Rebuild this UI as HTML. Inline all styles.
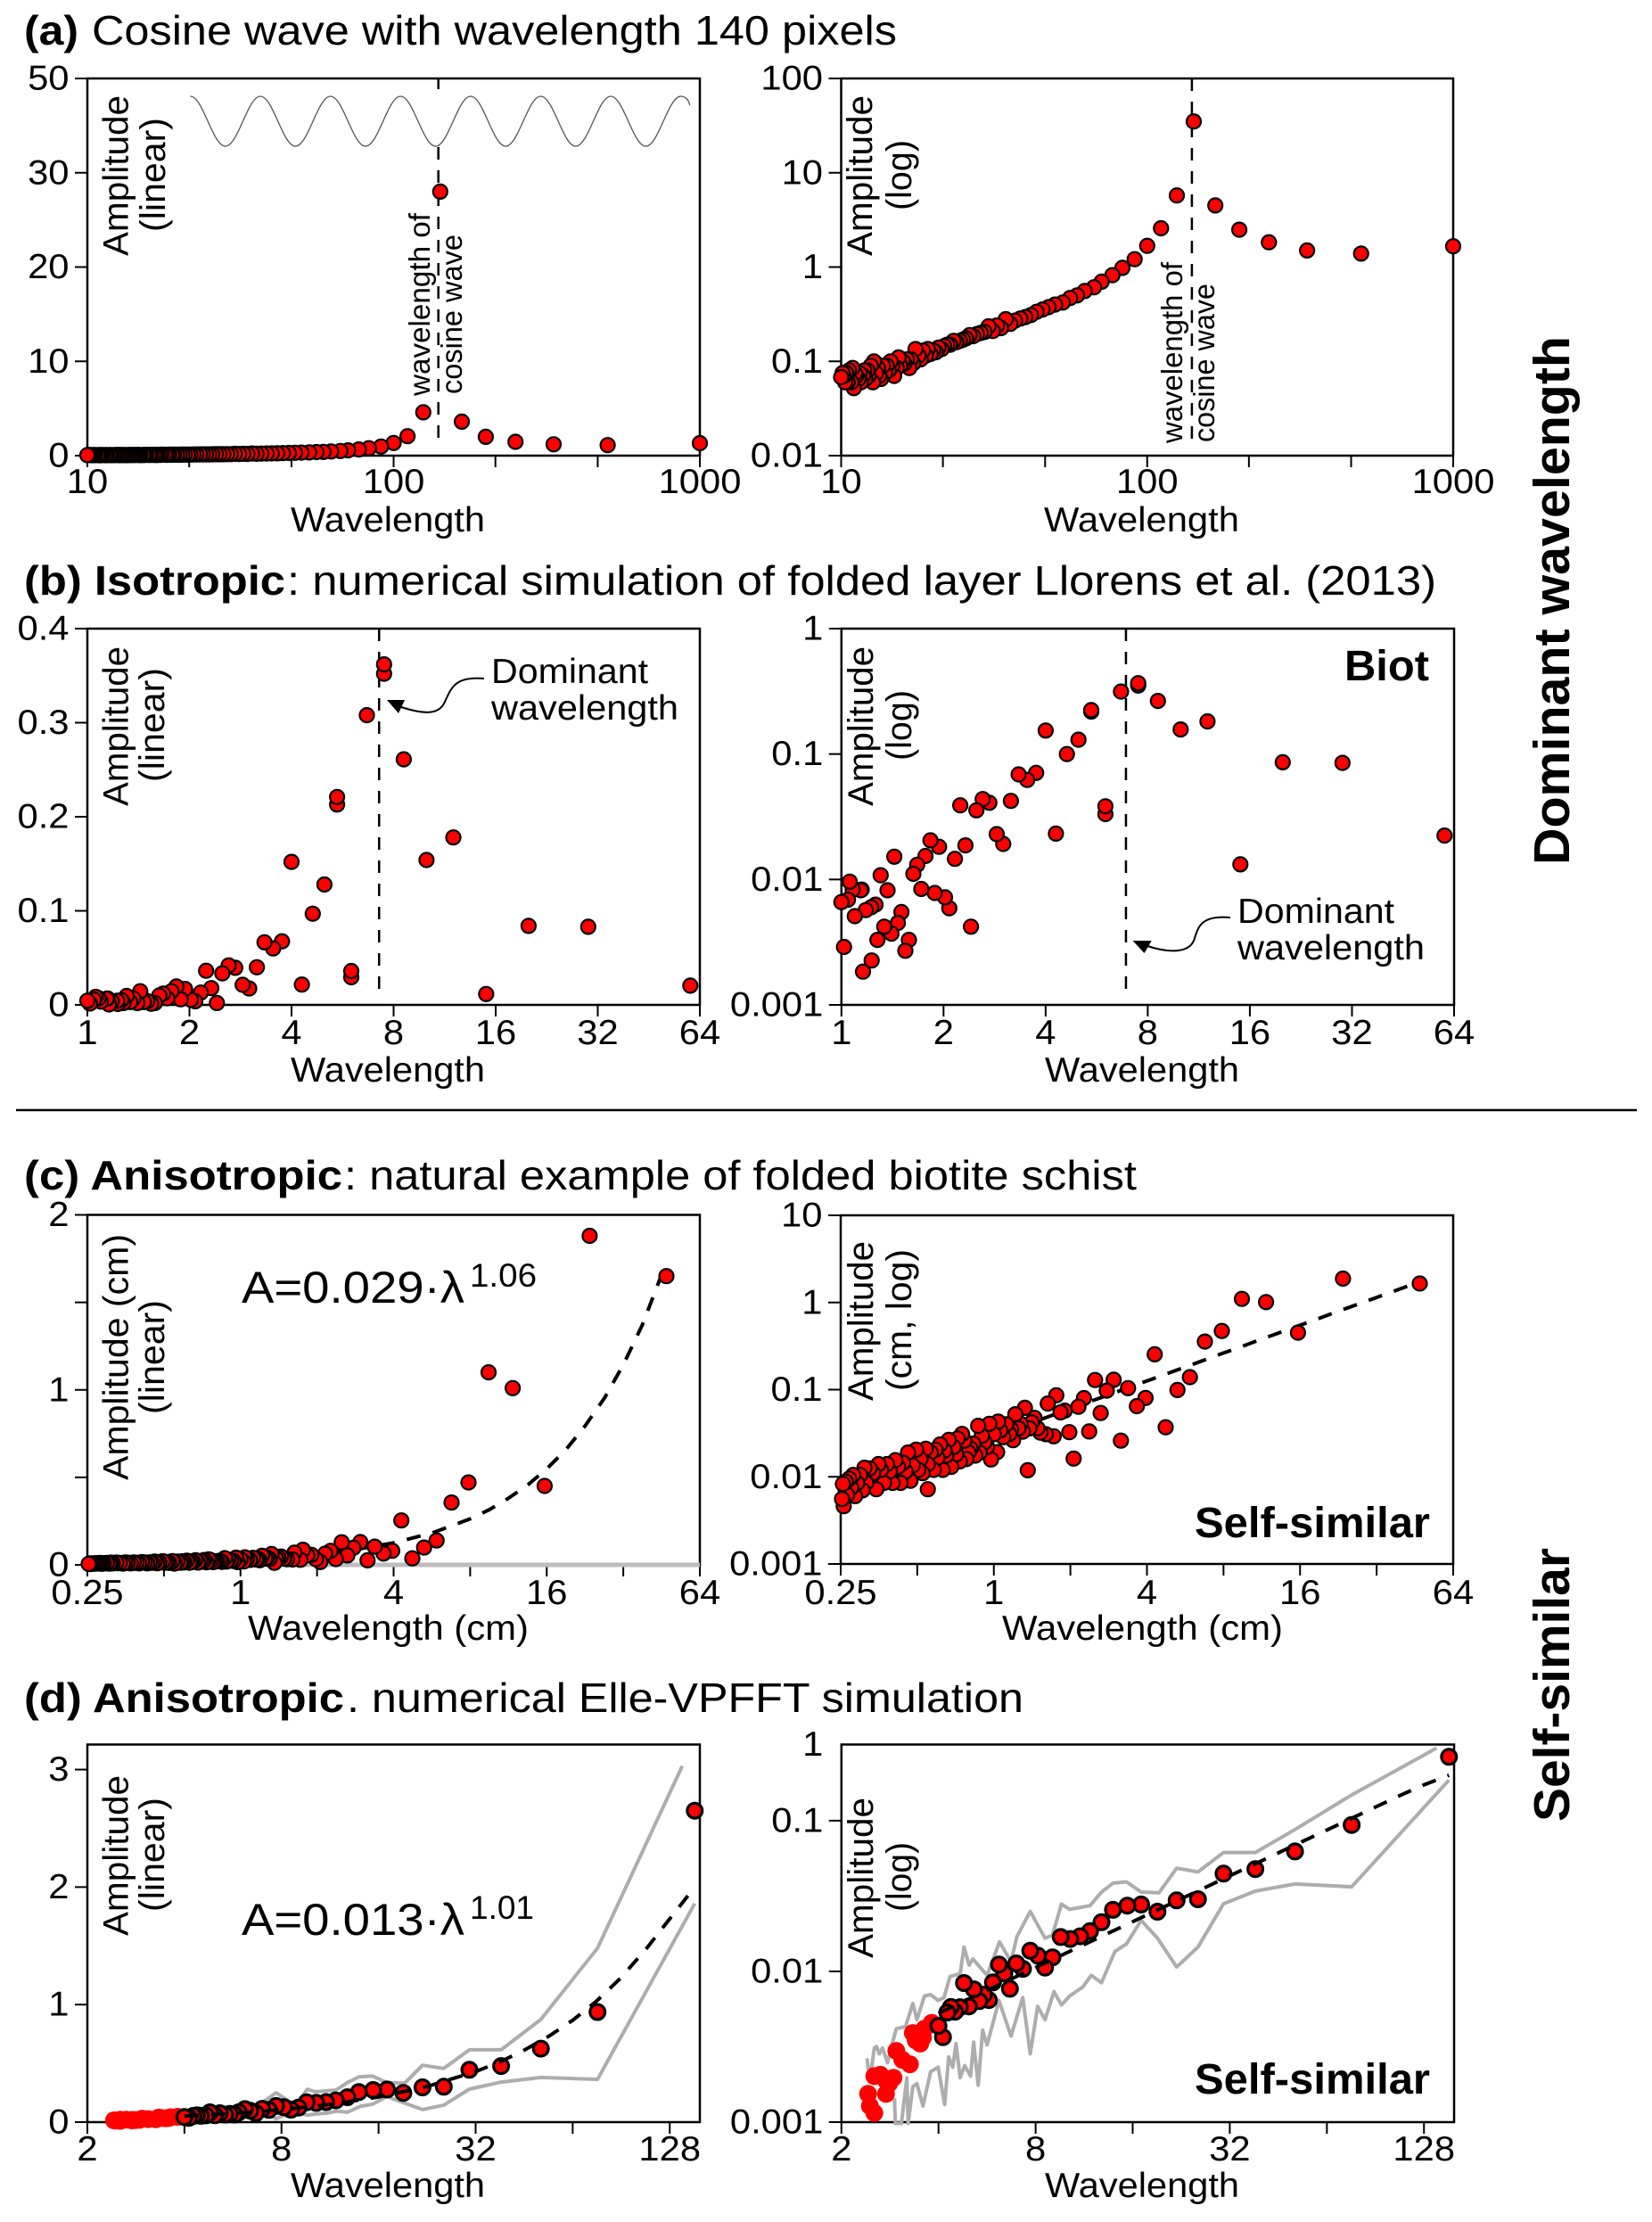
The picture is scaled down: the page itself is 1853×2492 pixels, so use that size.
<!DOCTYPE html>
<html lang="en">
<head>
<meta charset="utf-8">
<title>Amplitude versus wavelength spectra</title>
<style>
html,body{margin:0;padding:0;background:#fff}
svg{display:block}
text{font-family:"Liberation Sans",sans-serif;fill:#000}
.t{font-size:46px}
.b{font-weight:bold}
.yt{font-size:40px}
.xt{font-size:39px}
.tick{font-size:39px}
</style>
</head>
<body>
<svg id="figure" xmlns="http://www.w3.org/2000/svg" width="1853" height="2492" viewBox="0 0 1853 2492">
<rect x="0" y="0" width="1853" height="2492" fill="#fff"/>

<text class="t b" x="27" y="50" textLength="61" lengthAdjust="spacingAndGlyphs">(a)</text>
<text class="t" x="103" y="50" textLength="903" lengthAdjust="spacingAndGlyphs">Cosine wave with wavelength 140 pixels</text>
<text class="t b" x="27" y="667" textLength="293" lengthAdjust="spacingAndGlyphs">(b) Isotropic</text>
<text class="t" x="322" y="667" textLength="1289" lengthAdjust="spacingAndGlyphs">: numerical simulation of folded layer Llorens et al. (2013)</text>
<text class="t b" x="27" y="1334" textLength="357" lengthAdjust="spacingAndGlyphs">(c) Anisotropic</text>
<text class="t" x="386" y="1334" textLength="889" lengthAdjust="spacingAndGlyphs">: natural example of folded biotite schist</text>
<text class="t b" x="27" y="1920" textLength="359" lengthAdjust="spacingAndGlyphs">(d) Anisotropic</text>
<text class="t" x="389" y="1920" textLength="759" lengthAdjust="spacingAndGlyphs">. numerical Elle-VPFFT simulation</text>

<line x1="18" y1="1245" x2="1836" y2="1245" stroke="#000" stroke-width="2.5"/>
<text class="b" font-size="57" transform="translate(1760,970) rotate(-90)" textLength="593" lengthAdjust="spacingAndGlyphs">Dominant wavelength</text>
<text class="b" font-size="57" transform="translate(1760,2043) rotate(-90)" textLength="307" lengthAdjust="spacingAndGlyphs">Self-similar</text>

<path d="M213.5 108c14.3 0 25 56 39.3 56s25-56 39.3-56s25 56 39.3 56s25-56 39.3-56s25 56 39.3 56s25-56 39.3-56s25 56 39.3 56s25-56 39.3-56s25 56 39.3 56s25-56 39.3-56s25 56 39.3 56s25-56 39.3-56s25 56 39.3 56s25-56 39.3-56c5 0 9 4 10 10" fill="none" stroke="#555" stroke-width="1.3"/>

<text class="yt" transform="translate(143.5,287) rotate(-90)" textLength="180" lengthAdjust="spacingAndGlyphs">Amplitude</text>
<text class="yt" transform="translate(185,260) rotate(-90)" textLength="128" lengthAdjust="spacingAndGlyphs">(linear)</text>
<text class="yt" transform="translate(978,287) rotate(-90)" textLength="180" lengthAdjust="spacingAndGlyphs">Amplitude</text>
<text class="yt" transform="translate(1022,236) rotate(-90)" textLength="79" lengthAdjust="spacingAndGlyphs">(log)</text>
<text class="xt" x="326" y="596" textLength="218" lengthAdjust="spacingAndGlyphs">Wavelength</text>
<text class="xt" x="1171" y="596" textLength="219" lengthAdjust="spacingAndGlyphs">Wavelength</text>
<text font-size="33" transform="translate(482,444) rotate(-90)" textLength="205" lengthAdjust="spacingAndGlyphs">wavelength of</text>
<text font-size="33" transform="translate(518,442) rotate(-90)" textLength="179" lengthAdjust="spacingAndGlyphs">cosine wave</text>
<text font-size="33" transform="translate(1326,497) rotate(-90)" textLength="203" lengthAdjust="spacingAndGlyphs">wavelength of</text>
<text font-size="33" transform="translate(1362,496) rotate(-90)" textLength="178" lengthAdjust="spacingAndGlyphs">cosine wave</text>

<text class="yt" transform="translate(143.5,904) rotate(-90)" textLength="179" lengthAdjust="spacingAndGlyphs">Amplitude</text>
<text class="yt" transform="translate(184,877) rotate(-90)" textLength="128" lengthAdjust="spacingAndGlyphs">(linear)</text>
<text class="yt" transform="translate(979,904) rotate(-90)" textLength="179" lengthAdjust="spacingAndGlyphs">Amplitude</text>
<text class="yt" transform="translate(1022,853) rotate(-90)" textLength="79" lengthAdjust="spacingAndGlyphs">(log)</text>
<text class="xt" x="326" y="1213" textLength="218" lengthAdjust="spacingAndGlyphs">Wavelength</text>
<text class="xt" x="1172" y="1213" textLength="218" lengthAdjust="spacingAndGlyphs">Wavelength</text>
<text class="xt" x="551" y="766" textLength="176" lengthAdjust="spacingAndGlyphs">Dominant</text>
<text class="xt" x="551" y="807" textLength="210" lengthAdjust="spacingAndGlyphs">wavelength</text>
<path d="M543 761C510 758 506 772 499 787C493 801 478 802 450 793" fill="none" stroke="#000" stroke-width="2"/>
<polygon points="434,785 454,785 447,800" fill="#000"/>
<text class="xt" x="1388" y="1035" textLength="176" lengthAdjust="spacingAndGlyphs">Dominant</text>
<text class="xt" x="1388" y="1076" textLength="210" lengthAdjust="spacingAndGlyphs">wavelength</text>
<path d="M1380 1029C1347 1026 1344 1040 1340 1052C1336 1068 1315 1070 1287 1061" fill="none" stroke="#000" stroke-width="2"/>
<polygon points="1270.6,1055 1291.7,1055 1283.6,1069" fill="#000"/>
<text class="b" font-size="48" x="1508" y="763" textLength="95" lengthAdjust="spacingAndGlyphs">Biot</text>

<text class="yt" transform="translate(143.5,1660) rotate(-90)" textLength="276" lengthAdjust="spacingAndGlyphs">Amplitude (cm)</text>
<text class="yt" transform="translate(184,1586) rotate(-90)" textLength="128" lengthAdjust="spacingAndGlyphs">(linear)</text>
<text class="yt" transform="translate(979,1571) rotate(-90)" textLength="179" lengthAdjust="spacingAndGlyphs">Amplitude</text>
<text class="yt" transform="translate(1022,1560) rotate(-90)" textLength="159" lengthAdjust="spacingAndGlyphs">(cm, log)</text>
<text class="xt" x="278" y="1839" textLength="315" lengthAdjust="spacingAndGlyphs">Wavelength (cm)</text>
<text class="xt" x="1124" y="1839" textLength="315" lengthAdjust="spacingAndGlyphs">Wavelength (cm)</text>
<text font-size="50" x="271" y="1461" textLength="250" lengthAdjust="spacingAndGlyphs">A=0.029·λ</text>
<text font-size="37" x="527" y="1443" textLength="75" lengthAdjust="spacingAndGlyphs">1.06</text>
<text class="b" font-size="48" x="1340" y="1724" textLength="264" lengthAdjust="spacingAndGlyphs">Self-similar</text>

<text class="yt" transform="translate(143.5,2171) rotate(-90)" textLength="180" lengthAdjust="spacingAndGlyphs">Amplitude</text>
<text class="yt" transform="translate(184,2144) rotate(-90)" textLength="128" lengthAdjust="spacingAndGlyphs">(linear)</text>
<text class="yt" transform="translate(979,2196) rotate(-90)" textLength="180" lengthAdjust="spacingAndGlyphs">Amplitude</text>
<text class="yt" transform="translate(1022,2144) rotate(-90)" textLength="78" lengthAdjust="spacingAndGlyphs">(log)</text>
<text class="xt" x="326" y="2464" textLength="218" lengthAdjust="spacingAndGlyphs">Wavelength</text>
<text class="xt" x="1172" y="2464" textLength="218" lengthAdjust="spacingAndGlyphs">Wavelength</text>
<text font-size="50" x="271" y="2170" textLength="250" lengthAdjust="spacingAndGlyphs">A=0.013·λ</text>
<text font-size="37" x="527" y="2152" textLength="72" lengthAdjust="spacingAndGlyphs">1.01</text>
<text class="b" font-size="48" x="1340" y="2348" textLength="264" lengthAdjust="spacingAndGlyphs">Self-similar</text>
</svg>

<script>
// ---- Panel (a) data ----
const aWavelength = [1000,500,333,250,200,167,142,125,111,100,91,83,77,71,67,62.5,59,56,53,50,47.6,45.5,43.5,41.7,40,38.5,37,35.7,34.5,33.3,32.3,31.3,30.3,29.4,28.6,27.8,27,26.3,25.6,25,24.4,23.8,23.3,22.7,22.2,21.7,21.3,20.8,20.4,20,19.6,19.2,18.9,18.5,18.2,17.9,17.5,17.2,16.9,16.7,16.4,16.1,15.9,15.6,15.4,15.2,14.9,14.7,14.5,14.3,14.1,13.9,13.7,13.5,13.3,13.2,13,12.8,12.7,12.5,12.3,12.2,12,11.9,11.8,11.6,11.5,11.4,11.2,11.1,11,10.9,10.8,10.6,10.5,10.4,10.3,10.2,10.1,10];
const aAmplitudeLog = [1.66,1.39,1.5,1.83,2.49,4.5,35,5.74,2.58,1.68,1.21,0.98,0.82,0.7,0.61,0.557,0.5,0.47,0.42,0.4,0.375,0.355,0.335,0.31,0.295,0.285,0.27,0.25,0.28,0.225,0.24,0.21,0.235,0.205,0.2,0.195,0.185,0.19,0.175,0.17,0.165,0.16,0.165,0.15,0.15,0.145,0.135,0.14,0.125,0.13,0.12,0.135,0.115,0.13,0.105,0.115,0.135,0.095,0.105,0.085,0.105,0.095,0.1,0.09,0.11,0.085,0.07,0.09,0.1,0.08,0.09,0.075,0.09,0.065,0.07,0.085,0.075,0.1,0.06,0.09,0.07,0.08,0.065,0.08,0.07,0.06,0.075,0.065,0.07,0.075,0.052,0.085,0.06,0.08,0.06,0.075,0.06,0.07,0.075,0.068];
const aAmplitudeLinear = aAmplitudeLog.map(function(v){return v*0.8;});
const aCosineWavelength = 140;

// ---- Panel (b) data ----
const bWavelength = [60,30,20,15,12,10,8.57,7.5,7.5,6.67,6,6,5.45,5.45,5,4.62,4.29,4,3.75,3.53,3.33,3.16,3,2.87,2.73,2.61,2.5,2.41,2.32,2.24,2.16,2.08,2.02,1.94,1.885,1.83,1.77,1.72,1.673,1.63,1.581,1.543,1.503,1.467,1.432,1.404,1.367,1.337,1.305,1.277,1.26,1.228,1.224,1.18,1.158,1.147,1.14,1.095,1.08,1.058,1.045,1.018,1];
const bAmplitudeLog = [0.0224,0.085,0.086,0.0132,0.182,0.157,0.265,0.352,0.367,0.315,0.0332,0.0383,0.218,0.224,0.13,0.1,0.0232,0.154,0.0707,0.0622,0.0688,0.0423,0.0192,0.023,0.0409,0.0437,0.0356,0.0042,0.0187,0.039,0.0146,0.0059,0.0072,0.0182,0.0078,0.0205,0.0154,0.0084,0.0131,0.0111,0.0033,0.0027,0.0055,0.0045,0.0152,0.0037,0.0082,0.0042,0.0108,0.0033,0.0063,0.00226,0.006,0.0057,0.00184,0.0083,0.0082,0.0051,0.0083,0.0096,0.0069,0.0029,0.0066];
const bAmplitudeLinear = [0.0205,0.083,0.084,0.0116,0.178,0.154,0.261,0.352,0.362,0.308,0.0294,0.036,0.213,0.221,0.128,0.097,0.0216,0.152,0.0676,0.06,0.0665,0.04,0.0174,0.0213,0.0394,0.042,0.0336,0.002,0.0178,0.0363,0.0131,0.0039,0.0055,0.017,0.006,0.0195,0.0145,0.007,0.012,0.01,0.002,0.0012,0.004,0.003,0.0145,0.002,0.0068,0.003,0.0095,0.002,0.005,0.001,0.0045,0.004,0.0005,0.0068,0.0065,0.0035,0.007,0.0085,0.0055,0.0015,0.0045];
const bDominantLeft = 7.25;
const bDominantRight = 6.9;

// ---- Panel (c) data ----
const cDenseWavelength = [0.7,0.68,0.66,0.64,0.62,0.6,0.58,0.56,0.54,0.52,0.5,0.485,0.47,0.455,0.44,0.425,0.41,0.395,0.38,0.365,0.35,0.34,0.33,0.32,0.31,0.3,0.29,0.28,0.27,0.26];
const cDenseAmplitude = [0.0215,0.019,0.021,0.017,0.0185,0.014,0.0165,0.0155,0.016,0.0145,0.014,0.017,0.0125,0.0135,0.012,0.0115,0.0125,0.0105,0.0115,0.0105,0.01,0.0095,0.0095,0.0105,0.009,0.0085,0.0095,0.008,0.0085,0.0075];
const cWavelength = [47.3,23.6,15.7,11.76,9.45,7.88,6.76,5.9,5.27,4.74,4.29,3.95,3.65,3.37,3.16,2.96,2.78,2.63,2.5,2.37,2.26,2.15,2.06,1.98,1.9,1.83,1.76,1.72,1.63,1.6,1.525,1.485,1.445,1.41,1.38,1.36,1.325,1.3,1.275,1.25,1.215,1.19,1.17,1.15,1.12,1.09,1.06,1.04,1.03,1,0.975,0.96,0.94,0.92,0.897,0.88,0.868,0.845,0.83,0.81,0.795,0.78,0.765,0.75,0.735,0.72,0.71,0.695,0.68,0.665,0.65,0.64,0.63,0.615,0.6,0.59,0.58,0.565,0.55,0.55,0.54,0.525,0.515,0.505,0.495,0.48,0.47,0.46,0.45,0.44,0.43,0.42,0.41,0.4,0.39,0.38,0.37,0.36,0.352,0.345,0.335,0.325,0.315,0.31,0.305,0.298,0.29,0.285,0.28,0.275,0.27,0.265,0.262,0.257,0.255,0.253];
const cAmplitude = [1.65,1.88,0.451,1.01,1.1,0.471,0.356,0.139,0.099,0.037,0.254,0.0804,0.0647,0.104,0.026,0.13,0.0974,0.054,0.129,0.0331,0.08,0.0636,0.0162,0.0325,0.0573,0.0548,0.0863,0.0292,0.0693,0.0308,0.0321,0.0361,0.0474,0.042,0.036,0.0119,0.0619,0.033,0.0406,0.036,0.0522,0.0263,0.035,0.031,0.04,0.0285,0.034,0.0429,0.0192,0.0308,0.0158,0.0406,0.022,0.025,0.0296,0.019,0.0384,0.0175,0.024,0.021,0.019,0.016,0.026,0.031,0.015,0.0275,0.018,0.022,0.013,0.0265,0.0175,0.02,0.012,0.0235,0.0165,0.0205,0.012,0.019,0.014,0.0072,0.021,0.011,0.016,0.012,0.0205,0.0135,0.009,0.019,0.0115,0.0145,0.0085,0.013,0.0155,0.0085,0.0115,0.014,0.0085,0.012,0.014,0.0072,0.011,0.0125,0.0085,0.0127,0.007,0.0105,0.0085,0.006,0.0105,0.0075,0.0095,0.0062,0.0088,0.0046,0.0083,0.00557];
const cFitWavelength = [0.25,0.5,1,2,2.83,4,5.66,8,9.5,11.3,13.5,16,19,22.6,27,32,38,47];
const cFitAmplitude = [0.00667,0.0139,0.029,0.0605,0.0873,0.126,0.182,0.263,0.315,0.38,0.458,0.549,0.657,0.792,0.954,1.143,1.37,1.72];

// ---- Panel (d) data ----
const dFaintWavelength = [3.81,3.62,3.33,3.4,3.51,3.58,2.96,3.09,3.26,2.9,2.81,2.75,2.75,2.64,2.53,2.42,2.45,2.53];
const dFaintAmplitudeLog = [0.00456,0.00417,0.0039,0.00348,0.00332,0.00364,0.00297,0.00259,0.00242,0.00197,0.0018,0.00189,0.00154,0.00206,0.00202,0.00154,0.00128,0.00115];
const dWavelength = [153,76.4,51,38.4,30.6,25.5,21.9,19.1,17,15.4,13.9,12.8,11.8,11,10.25,9.57,9.03,8.56,8.14,7.7,7.31,6.97,6.66,6.4,6.16,5.9,5.73,5.53,5.35,5.15,4.97,4.8,4.66,4.5,4.37,4.26,4.13,4];
const dAmplitudeLog = [0.265,0.0937,0.0625,0.0477,0.0445,0.0301,0.0296,0.0249,0.0278,0.0273,0.0256,0.0212,0.0185,0.0171,0.0164,0.0169,0.0124,0.0106,0.0127,0.0137,0.0104,0.0113,0.00767,0.0097,0.0111,0.00845,0.00645,0.007,0.00635,0.0076,0.00586,0.00837,0.00579,0.0054,0.0058,0.00534,0.00366,0.00435];
const dUpperWavelength = [2.4,2.45,2.53,2.57,2.62,2.68,2.78,2.9,2.96,3.16,3.33,3.43,3.62,3.78,3.99,4.16,4.34,4.67,4.8,4.98,5.11,5.66,6.18,6.71,7,7.7,8.56,9.02,9.62,10.2,11.8,12.8,13.9,15.3,17,19.3,21.9,25.5,30.6,38.4,51,76.4,140];
const dUpperAmplitudeLog = [0.00265,0.00189,0.0031,0.00318,0.00284,0.0031,0.00248,0.00356,0.00417,0.0043,0.00613,0.00478,0.00687,0.00702,0.00641,0.00671,0.00923,0.00964,0.0145,0.011,0.0121,0.00942,0.0157,0.0116,0.017,0.025,0.0166,0.0174,0.028,0.0258,0.0273,0.0336,0.0385,0.0393,0.0336,0.0332,0.0484,0.0457,0.0615,0.0615,0.0874,0.148,0.303];
const dLowerWavelength = [2.92,2.94,3.07,3.19,3.22,3.33,3.43,3.58,3.78,3.99,4.18,4.3,4.43,4.53,4.67,4.82,5.03,5.14,5.31,5.48,5.66,6.16,6.71,7.3,7.7,8.12,8.56,9.12,9.62,10.2,11.2,11.9,12.8,14.1,15.3,17,19.1,21.9,25.5,30.6,38.4,51,76.4,153];
const dLowerAmplitudeLog = [0.00144,0.00098,0.00098,0.00197,0.00098,0.00172,0.0018,0.00128,0.00216,0.00231,0.00131,0.00271,0.00231,0.00332,0.00197,0.00237,0.00202,0.0034,0.00176,0.00407,0.00325,0.00641,0.00372,0.00671,0.00284,0.00586,0.00478,0.00735,0.006,0.00687,0.00787,0.00942,0.00842,0.01355,0.0152,0.0218,0.0166,0.0107,0.0145,0.0281,0.0341,0.038,0.0364,0.186];
const dFitWavelength = [4,5.66,8,11.3,16,22.6,32,38,45,54,64,76,90,108,128,153];
const dFitAmplitudeLinear = [0.0527,0.0749,0.1062,0.1505,0.2138,0.303,0.4305,0.512,0.608,0.731,0.867,1.032,1.224,1.471,1.73,2.0];

// ---- Axis ticks and labels ----
const aXTicks = [10,21.5,46.4,100,215,464,1000];
const aXLabelValues = [10,100,1000];
const aXLabels = ["10","100","1000"];
const aLinYTicks = [0,10,20,30,40];
const aLinYLabels = ["0","10","20","30","50"];
const aLogYTicks = [0.01,0.1,1,10,100];
const aLogYLabels = ["0.01","0.1","1","10","100"];
const bXTicks = [1,2,4,8,16,32,64];
const bXLabels = ["1","2","4","8","16","32","64"];
const bLinYTicks = [0,0.1,0.2,0.3,0.4];
const bLinYLabels = ["0","0.1","0.2","0.3","0.4"];
const bLogYTicks = [0.001,0.01,0.1,1];
const bLogYLabels = ["0.001","0.01","0.1","1"];
const cXTicks = [0.25,0.5,1,2,4,8,16,32,64];
const cXLabelValues = [0.25,1,4,16,64];
const cXLabels = ["0.25","1","4","16","64"];
const cLinYTicks = [0,0.5,1,1.5,2];
const cLinYLabelValues = [0,1,2];
const cLinYLabels = ["0","1","2"];
const cLogYTicks = [0.001,0.01,0.1,1,10];
const cLogYLabels = ["0.001","0.01","0.1","1","10"];
const dXTicks = [2,4,8,16,32,64,128];
const dXLabelValues = [2,8,32,128];
const dXLabels = ["2","8","32","128"];
const dLinYTicks = [0,1,2,3];
const dLinYLabels = ["0","1","2","3"];
const dLogYTicks = [0.001,0.01,0.1];
const dLogYLabelValues = [0.001,0.01,0.1,0.32];
const dLogYLabels = ["0.001","0.01","0.1","1"];

const svgNS = "http://www.w3.org/2000/svg";
const figure = document.getElementById("figure");

function mk(parent, tag, attrs, content) {
  const el = document.createElementNS(svgNS, tag);
  for (const k in attrs) el.setAttribute(k, attrs[k]);
  if (content !== undefined) el.textContent = content;
  parent.appendChild(el);
  return el;
}
function xPos(p, v) {
  return p.left + Math.log(v / p.xMin) / Math.log(p.xMax / p.xMin) * (p.right - p.left);
}
function yPos(p, v) {
  if (p.log) return p.bottom - Math.log(v / p.yMin) / Math.log(p.yMax / p.yMin) * (p.bottom - p.top);
  return p.bottom - (v - p.yMin) / (p.yMax - p.yMin) * (p.bottom - p.top);
}
function linePath(p, xs, ys) {
  return xs.map(function(x, i) {
    return (i ? "L" : "M") + xPos(p, x).toFixed(1) + " " + yPos(p, ys[i]).toFixed(1);
  }).join("");
}
function drawAxes(g, p) {
  const frame = mk(g, "rect", {x:p.left, y:p.top, width:p.right-p.left, height:p.bottom-p.top, fill:"none", stroke:"#000", "stroke-width":2.5});
  
  
  p.xTicks.forEach(function(v) {
    const t = mk(g, "line", {x1:xPos(p,v), x2:xPos(p,v), y1:p.bottom, y2:p.bottom+13, stroke:"#000", "stroke-width":2});
    
    
  });
  p.xLabelValues.forEach(function(v, i) {
    const t = mk(g, "text", {transform:"translate(" + xPos(p,v) + "," + p.xLabelY + ") scale(1.07,1)", "text-anchor":"middle", "class":"tick"}, p.xLabels[i]);
    
    
  });
  p.yTicks.forEach(function(v) {
    const t = mk(g, "line", {x1:p.left-14, x2:p.left, y1:yPos(p,v), y2:yPos(p,v), stroke:"#000", "stroke-width":2});
    
    
  });
  p.yLabelValues.forEach(function(v, i) {
    const t = mk(g, "text", {transform:"translate(" + (p.left-20.5) + "," + (yPos(p,v)+12.5) + ") scale(1.07,1)", "text-anchor":"end", "class":"tick"}, p.yLabels[i]);
    
    
  });
}
function drawPoints(g, p, xs, ys, style) {
  xs.forEach(function(x, i) {
    const c = mk(g, "circle", {cx:xPos(p,x).toFixed(1), cy:yPos(p,ys[i]).toFixed(1), r:style.r, fill:"#ff0000", stroke:style.stroke, "stroke-width":style.width});
    
    
  });
}
function drawFit(g, p, xs, ys) {
  const l = mk(g, "path", {d:linePath(p,xs,ys), fill:"none", stroke:"#000", "stroke-width":4, "stroke-dasharray":"16 14"});
  
  
}
function drawEnvelope(g, p, xs, ys) {
  const l = mk(g, "path", {d:linePath(p,xs,ys), fill:"none", stroke:"#adadad", "stroke-width":4, "stroke-linejoin":"round"});
  
  
}
function drawMarker(g, p, v, y1, y2) {
  const l = mk(g, "line", {x1:xPos(p,v), x2:xPos(p,v), y1:y1, y2:y2, stroke:"#000", "stroke-width":2.5, "stroke-dasharray":"14 12"});
  
  
}
function panelGroup(p) {
  const g = mk(figure, "g", {});
  
  
  drawAxes(g, p);
  return g;
}

const thin = {r:8, stroke:"#000", width:2.2};
const thick = {r:8.4, stroke:"#000", width:3.2};
const faint = {r:10, stroke:"none", width:0};

// a-left
const pAL = {left:98,right:785,top:88,bottom:511,xMin:10,xMax:1000,log:false,yMin:0,yMax:40,xTicks:aXTicks,xLabelValues:aXLabelValues,xLabels:aXLabels,xLabelY:553,yTicks:aLinYTicks,yLabelValues:aLinYTicks,yLabels:aLinYLabels};
const gAL = panelGroup(pAL);
drawMarker(gAL, pAL, aCosineWavelength, 88, 100);
drawMarker(gAL, pAL, aCosineWavelength, 165, 500);
drawPoints(gAL, pAL, aWavelength, aAmplitudeLinear, thin);

// a-right
const pAR = {left:943.5,right:1630,top:88,bottom:511,xMin:10,xMax:1000,log:true,yMin:0.01,yMax:100,xTicks:aXTicks,xLabelValues:aXLabelValues,xLabels:aXLabels,xLabelY:553,yTicks:aLogYTicks,yLabelValues:aLogYTicks,yLabels:aLogYLabels};
const gAR = panelGroup(pAR);
drawMarker(gAR, pAR, aCosineWavelength, 88, 500);
drawPoints(gAR, pAR, aWavelength, aAmplitudeLog, thin);

// b-left
const pBL = {left:98,right:785,top:705,bottom:1127,xMin:1,xMax:64,log:false,yMin:0,yMax:0.4,xTicks:bXTicks,xLabelValues:bXTicks,xLabels:bXLabels,xLabelY:1171,yTicks:bLinYTicks,yLabelValues:bLinYTicks,yLabels:bLinYLabels};
const gBL = panelGroup(pBL);
drawMarker(gBL, pBL, bDominantLeft, 705, 1118);
drawPoints(gBL, pBL, bWavelength, bAmplitudeLinear, thin);

// b-right
const pBR = {left:943.8,right:1631,top:705,bottom:1127,xMin:1,xMax:64,log:true,yMin:0.001,yMax:1,xTicks:bXTicks,xLabelValues:bXTicks,xLabels:bXLabels,xLabelY:1171,yTicks:bLogYTicks,yLabelValues:bLogYTicks,yLabels:bLogYLabels};
const gBR = panelGroup(pBR);
drawMarker(gBR, pBR, bDominantRight, 705, 1118);
drawPoints(gBR, pBR, bWavelength, bAmplitudeLog, thin);

// c-left
const pCL = {left:98,right:785,top:1362.5,bottom:1755,xMin:0.25,xMax:64,log:false,yMin:0,yMax:2,xTicks:cXTicks,xLabelValues:cXLabelValues,xLabels:cXLabels,xLabelY:1799,yTicks:cLinYTicks,yLabelValues:cLinYLabelValues,yLabels:cLinYLabels};
const gCL = panelGroup(pCL);
const cBase = mk(gCL, "line", {x1:98, x2:785, y1:1755, y2:1755, stroke:"#bdbdbd", "stroke-width":5});


drawFit(gCL, pCL, cFitWavelength, cFitAmplitude);
drawPoints(gCL, pCL, cDenseWavelength, cDenseAmplitude, thin);
drawPoints(gCL, pCL, cWavelength, cAmplitude, thin);

// c-right
const pCR = {left:943,right:1630,top:1363,bottom:1754,xMin:0.25,xMax:64,log:true,yMin:0.001,yMax:10,xTicks:cXTicks,xLabelValues:cXLabelValues,xLabels:cXLabels,xLabelY:1799,yTicks:cLogYTicks,yLabelValues:cLogYTicks,yLabels:cLogYLabels};
const gCR = panelGroup(pCR);
drawFit(gCR, pCR, cFitWavelength, cFitAmplitude);
drawPoints(gCR, pCR, cDenseWavelength, cDenseAmplitude, thin);
drawPoints(gCR, pCR, cWavelength, cAmplitude, thin);

// d-left
const toLinear = function(v){return v*10;};
const toLog = function(v){return v/10;};
const pDL = {left:98,right:785,top:1956.5,bottom:2380,xMin:2,xMax:158.7,log:false,yMin:0,yMax:3.213,xTicks:dXTicks,xLabelValues:dXLabelValues,xLabels:dXLabels,xLabelY:2423,yTicks:dLinYTicks,yLabelValues:dLinYTicks,yLabels:dLinYLabels};
const gDL = panelGroup(pDL);
drawEnvelope(gDL, pDL, dUpperWavelength, dUpperAmplitudeLog.map(toLinear));
drawEnvelope(gDL, pDL, dLowerWavelength, dLowerAmplitudeLog.map(toLinear));
drawPoints(gDL, pDL, dFaintWavelength, dFaintAmplitudeLog.map(toLinear), faint);
drawPoints(gDL, pDL, dWavelength, dAmplitudeLog.map(toLinear), thick);
drawFit(gDL, pDL, dFitWavelength, dFitAmplitudeLinear);

// d-right
const pDR = {left:943.8,right:1631,top:1956.5,bottom:2380,xMin:2,xMax:158.7,log:true,yMin:0.001,yMax:0.32,xTicks:dXTicks,xLabelValues:dXLabelValues,xLabels:dXLabels,xLabelY:2423,yTicks:dLogYTicks,yLabelValues:dLogYLabelValues,yLabels:dLogYLabels};
const gDR = panelGroup(pDR);
drawEnvelope(gDR, pDR, dUpperWavelength, dUpperAmplitudeLog);
drawEnvelope(gDR, pDR, dLowerWavelength, dLowerAmplitudeLog);
drawPoints(gDR, pDR, dFaintWavelength, dFaintAmplitudeLog, faint);
drawPoints(gDR, pDR, dWavelength, dAmplitudeLog, thick);
drawFit(gDR, pDR, dFitWavelength, dFitAmplitudeLinear.map(toLog));
</script>
</body>
</html>
